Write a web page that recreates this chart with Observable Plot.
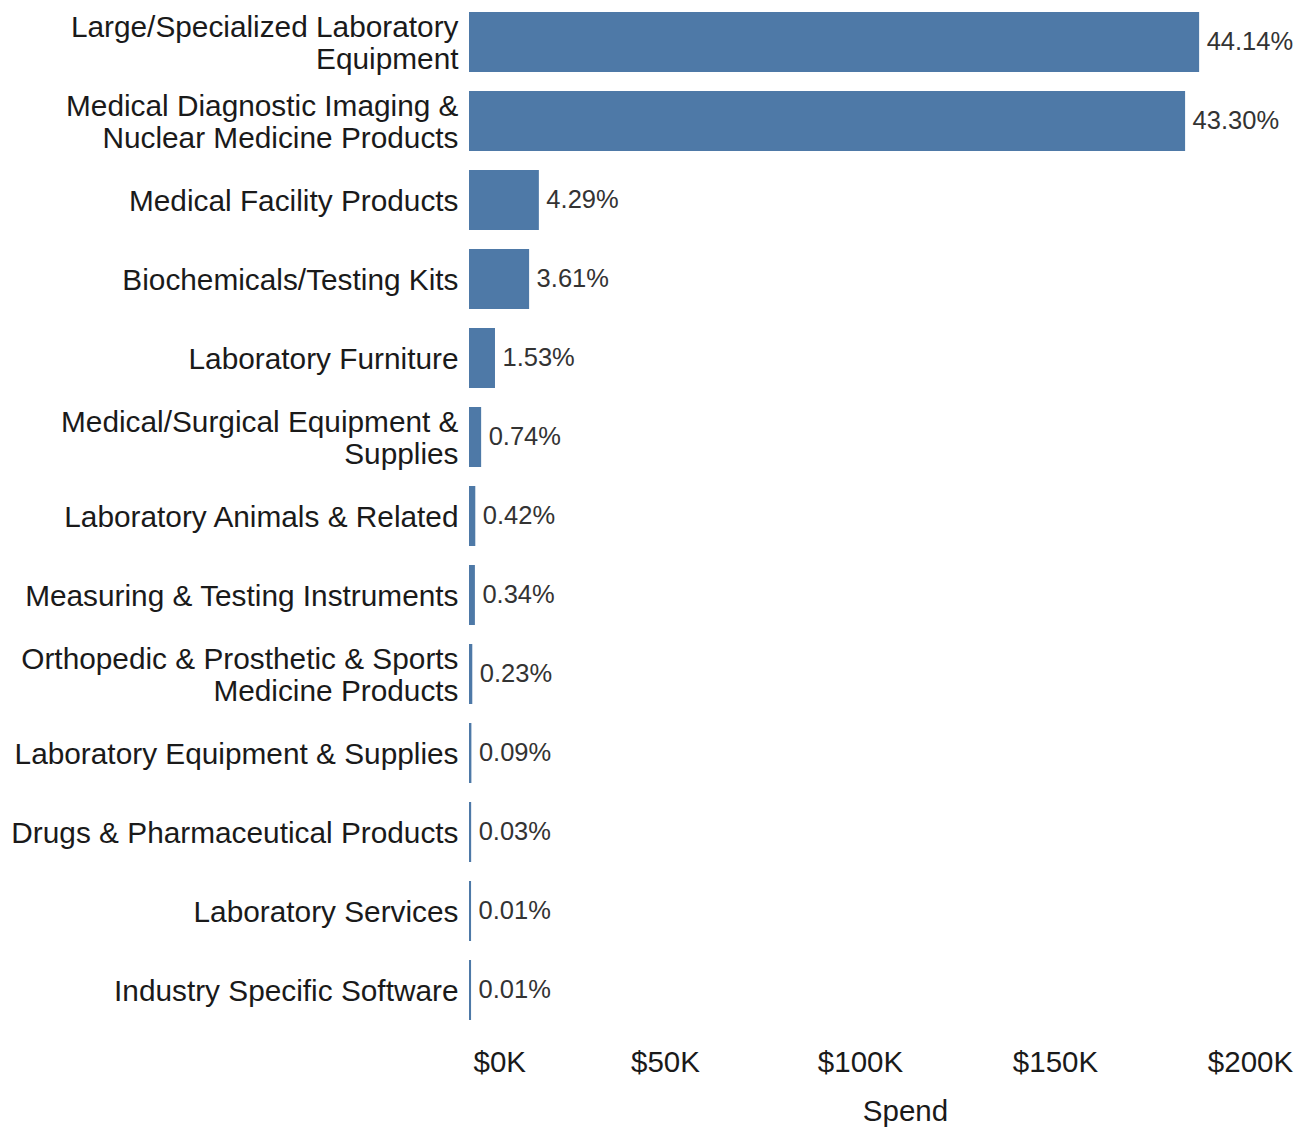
<!DOCTYPE html>
<html>
<head>
<meta charset="utf-8">
<script src="https://cdn.jsdelivr.net/npm/d3@7"></script>
<script src="https://cdn.jsdelivr.net/npm/@observablehq/plot@0.6"></script>
<style>
  html, body { margin: 0; padding: 0; background: #fff; }
</style>
</head>
<body>
<div id="chart"></div>
<script>
const categories = [
  "Large/Specialized Laboratory\nEquipment",
  "Medical Diagnostic Imaging &\nNuclear Medicine Products",
  "Medical Facility Products",
  "Biochemicals/Testing Kits",
  "Laboratory Furniture",
  "Medical/Surgical Equipment &\nSupplies",
  "Laboratory Animals & Related",
  "Measuring & Testing Instruments",
  "Orthopedic & Prosthetic & Sports\nMedicine Products",
  "Laboratory Equipment & Supplies",
  "Drugs & Pharmaceutical Products",
  "Laboratory Services",
  "Industry Specific Software"
];
const spend = [186700, 183100, 17400, 14900, 6150, 2600, 1100, 1000, 330, 100, 40, 15, 15];
const share = [44.14, 43.30, 4.29, 3.61, 1.53, 0.74, 0.42, 0.34, 0.23, 0.09, 0.03, 0.01, 0.01];
const xTicks = [0, 50000, 100000, 150000, 200000];

const data = categories.map((c, i) => ({cat: c, spend: spend[i], share: share[i]}));
const fmtK = d => `$${d / 1000}K`;

const chart = Plot.plot({
  width: 1307,
  height: 1127,
  marginLeft: 470,
  marginRight: 57,
  marginTop: 3,
  marginBottom: 97,
  style: {fontFamily: "'Liberation Sans', Arial, sans-serif", background: "#fff"},
  x: {domain: [0, 200000], axis: null},
  y: {domain: categories, paddingInner: 0.24, paddingOuter: 0.12, axis: null},
  marks: [
    Plot.barX(data, {x: "spend", y: "cat", fill: "#4e79a7", stroke: "#4e79a7", strokeWidth: 2, insetTop: 1, insetBottom: 1}),
    Plot.text(data, {x: "spend", y: "cat", text: d => d.share.toFixed(2) + "%", textAnchor: "start", dx: 8, dy: -1, fontSize: 25.5, fill: "#333"}),
    Plot.axisY({tickSize: 0, tickPadding: 12, fontSize: 29.8, lineHeight: 1.1, label: null, fill: "#1a1a1a"}),
    Plot.axisX({ticks: xTicks.slice(1), tickFormat: fmtK, tickSize: 0, tickPadding: 21, fontSize: 29.5, label: null, fill: "#1a1a1a"}),
    Plot.axisX({ticks: xTicks.slice(0, 1), tickFormat: fmtK, tickSize: 0, tickPadding: 21, fontSize: 29.5, label: null, fill: "#1a1a1a", textAnchor: "start", dx: 3}),
    Plot.text(["Spend"], {frameAnchor: "bottom", dx: 45, dy: 90, fontSize: 29.5, fill: "#1a1a1a"})
  ]
});
document.getElementById("chart").appendChild(chart);
</script>
</body>
</html>
